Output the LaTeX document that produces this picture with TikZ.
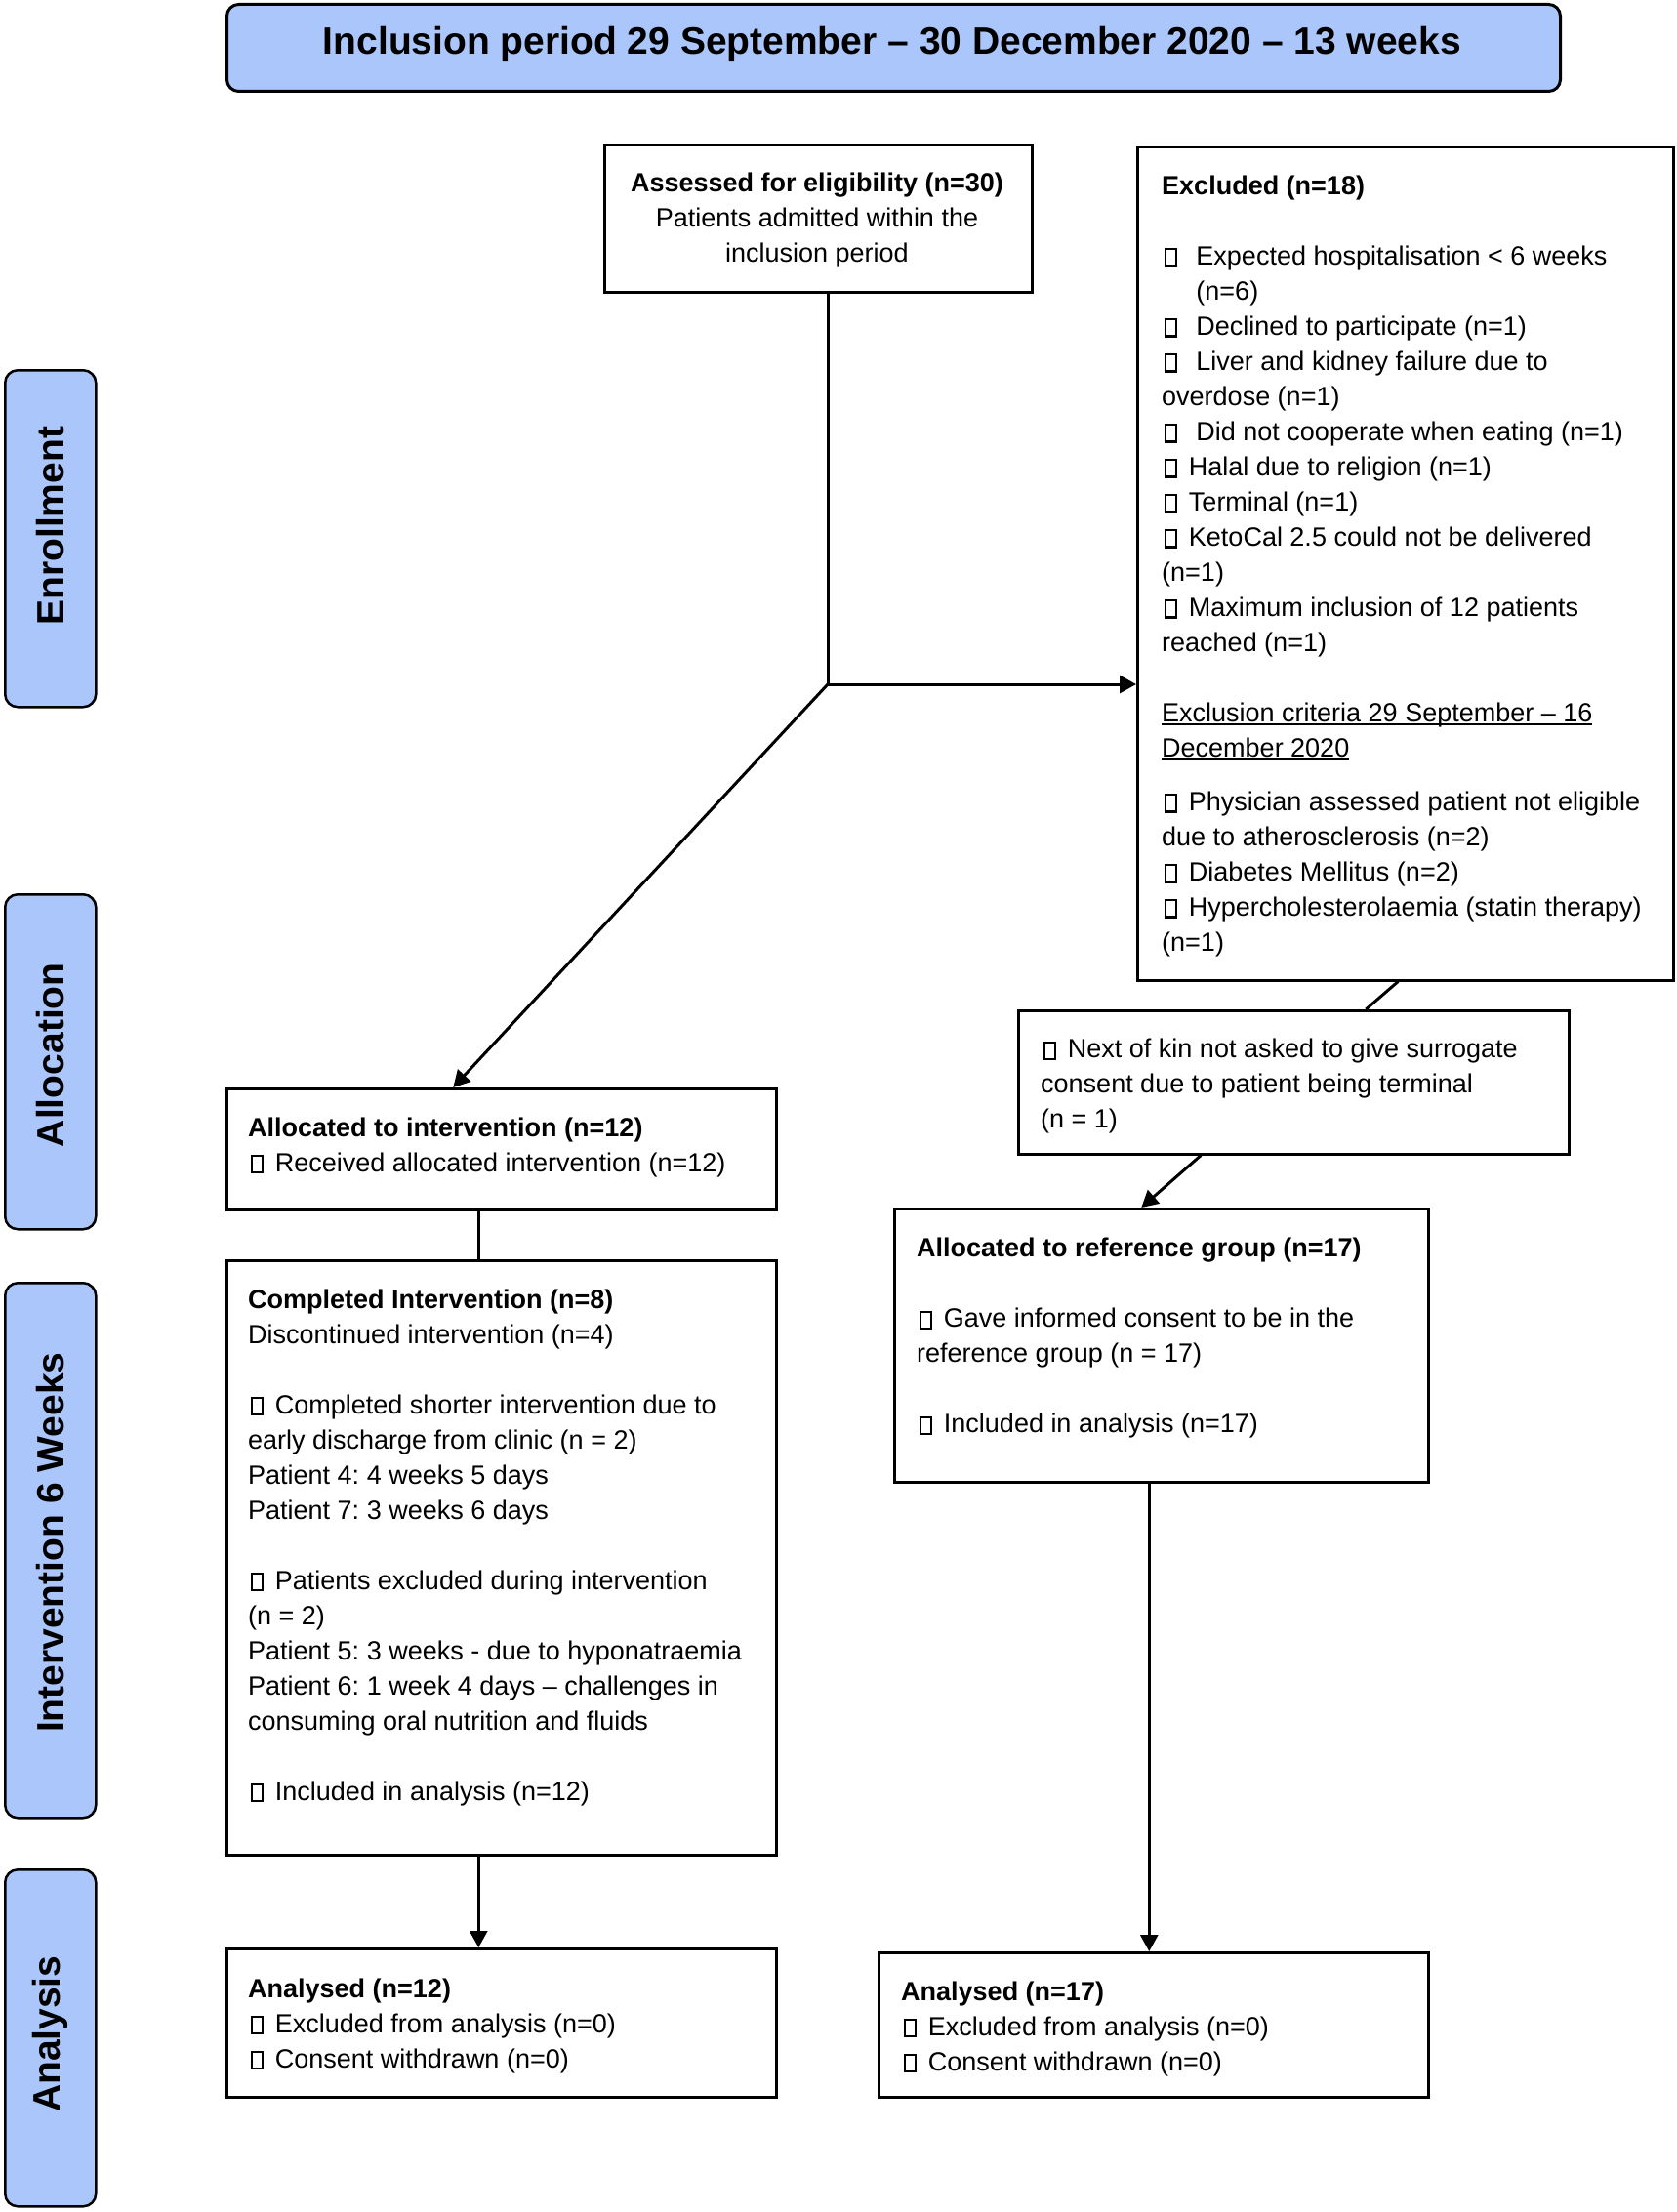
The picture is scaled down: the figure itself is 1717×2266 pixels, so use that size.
\documentclass[tikz,border=0pt]{standalone}
\usepackage{fontspec}
\setmainfont{Liberation Sans}
\usetikzlibrary{arrows.meta,calc}
\definecolor{phase}{RGB}{170,198,250}
\frenchspacing
\newcommand\nbx{\kern0.09em{\setlength\fboxrule{0.075em}\setlength\fboxsep{0pt}\fbox{\rule{0pt}{0.56em}\hspace{0.33em}}}\kern0.18em}
\newcommand\uln[1]{\setbox0\hbox{#1}\rlap{\rule[-0.13em]{\wd0}{2pt}}\box0}
\tikzset{
  boxn/.style={draw, line width=2.5pt, inner sep=0pt, anchor=north west},
  txt/.style={inner sep=0pt, align=left, anchor=west, font=\fontsize{27}{36}\selectfont},
  phasebox/.style={draw, fill=phase, line width=2.5pt, rounded corners=13pt, inner sep=0pt, anchor=north west},
  phasetxt/.style={inner sep=0pt, font=\fontsize{39}{46}\selectfont\bfseries},
  conn/.style={line width=3pt},
  arr/.style={conn, -{Triangle[length=17pt,width=18pt]}},
}
\begin{document}
\begin{tikzpicture}[x=1pt,y=-1pt]
\path[use as bounding box, fill=white] (0,0) rectangle (1717,2266);

% title
\node[phasebox, rounded corners=12pt, line width=3pt, minimum width=1366pt, minimum height=89pt] (title) at (231,3) {};
\node[phasetxt] (titlet) at (914,45) {Inclusion period 29 September – 30 December 2020 – 13 weeks};

% side phase labels
\node[phasebox, minimum width=93pt, minimum height=345pt] (p1) at (4,378) {};
\node[phasetxt, rotate=90] (p1t) at ([yshift=13pt]p1.center) {Enrollment};
\node[phasebox, minimum width=93pt, minimum height=343pt] (p2) at (4,915) {};
\node[phasetxt, rotate=90] (p2t) at ([yshift=7pt]p2.center) {Allocation};
\node[phasebox, minimum width=93pt, minimum height=548pt] (p3) at (4,1313) {};
\node[phasetxt, rotate=90] (p3t) at ([yshift=8pt]p3.center) {Intervention 6 Weeks};
\node[phasebox, minimum width=93pt, minimum height=345pt] (p4) at (4,1914) {};
\node[phasetxt, rotate=90] (p4t) at ([yshift=4pt]p4.center) {Analysis};

% assessed
\node[boxn, minimum width=438pt, minimum height=150pt] (as) at (618,148) {};
\node[txt, align=center, anchor=center] (ast) at (837,226) {\textbf{Assessed for eligibility (n=30)}\\Patients admitted within the\\inclusion period};

% excluded
\node[boxn, minimum width=549pt, minimum height=853pt] (ex) at (1164,150) {};
\node[txt] (ext) at (1190,580) {\textbf{Excluded (n=18)}\\[36pt]
\nbx~~Expected hospitalisation < 6 weeks\\
\phantom{\nbx~~}(n=6)\\
\nbx~~Declined to participate (n=1)\\
\nbx~~Liver and kidney failure due to\\
overdose (n=1)\\
\nbx~~Did not cooperate when eating (n=1)\\
\nbx~Halal due to religion (n=1)\\
\nbx~Terminal (n=1)\\
\nbx~KetoCal 2.5 could not be delivered\\
(n=1)\\
\nbx~Maximum inclusion of 12 patients\\
reached (n=1)\\[36pt]
\uln{Exclusion criteria 29 September – 16}\\
\uln{December 2020}\\[19pt]
\nbx~Physician assessed patient not eligible\\
due to atherosclerosis (n=2)\\
\nbx~Diabetes Mellitus (n=2)\\
\nbx~Hypercholesterolaemia (statin therapy)\\
(n=1)};

% next of kin
\node[boxn, minimum width=564pt, minimum height=147pt] (nok) at (1042,1034) {};
\node[txt] (nokt) at (1066,1113) {\nbx~Next of kin not asked to give surrogate\\
consent due to patient being terminal\\
(n = 1)};

% allocated to intervention
\node[boxn, minimum width=563pt, minimum height=124pt] (ai) at (231,1114) {};
\node[txt] (ait) at (254,1175) {\textbf{Allocated to intervention (n=12)}\\
\nbx~Received allocated intervention (n=12)};

% allocated to reference group
\node[boxn, minimum width=547pt, minimum height=280pt] (rg) at (915,1237) {};
\node[txt] (rgt) at (939,1371) {\textbf{Allocated to reference group (n=17)}\\[36pt]
\nbx~Gave informed consent to be in the\\
reference group (n = 17)\\[36pt]
\nbx~Included in analysis (n=17)};

% completed intervention
\node[boxn, minimum width=563pt, minimum height=609pt] (ci) at (231,1290) {};
\node[txt] (cit) at (254,1585) {\textbf{Completed Intervention (n=8)}\\
Discontinued intervention (n=4)\\[36pt]
\nbx~Completed shorter intervention due to\\
early discharge from clinic (n = 2)\\
Patient 4: 4 weeks 5 days\\
Patient 7: 3 weeks 6 days\\[36pt]
\nbx~Patients excluded during intervention\\
(n = 2)\\
Patient 5: 3 weeks - due to hyponatraemia\\
Patient 6: 1 week 4 days – challenges in\\
consuming oral nutrition and fluids\\[36pt]
\nbx~Included in analysis (n=12)};

% analysed
\node[boxn, minimum width=563pt, minimum height=152pt] (al) at (231,1995) {};
\node[txt] (alt) at (254,2075) {\textbf{Analysed (n=12)}\\
\nbx~Excluded from analysis (n=0)\\
\nbx~Consent withdrawn (n=0)};
\node[boxn, minimum width=563pt, minimum height=148pt] (ar) at (899,1999) {};
\node[txt] (art) at (923,2078) {\textbf{Analysed (n=17)}\\
\nbx~Excluded from analysis (n=0)\\
\nbx~Consent withdrawn (n=0)};

% connectors
\coordinate (j) at (848,701);
\draw[conn] (as.south -| j) -- (j);
\draw[arr] (j) -- (j -| ex.west);
\draw[arr] (j) -- ([xshift=-49.5pt]ai.north);
\draw[conn] ([xshift=-7.5pt]ex.south) -- ([xshift=74pt]nok.north);
\draw[arr] ([xshift=-95pt]nok.south) -- ([xshift=-20.5pt]rg.north);
\draw[conn] ([xshift=-23.5pt]ai.south) -- ([xshift=-23.5pt]ai.south |- ci.north);
\draw[arr] ([xshift=-23.5pt]ci.south) -- ([xshift=-23.5pt]ci.south |- al.north);
\draw[arr] ([xshift=-12.5pt]rg.south) -- ([xshift=-12.5pt]rg.south |- ar.north);
\end{tikzpicture}
\end{document}
